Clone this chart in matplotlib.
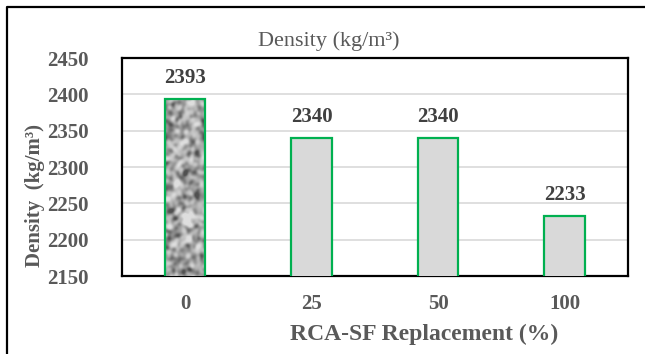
import numpy as np
import matplotlib
matplotlib.use("Agg")
import matplotlib.pyplot as plt
from matplotlib.lines import Line2D
from matplotlib.colors import LinearSegmentedColormap

# Density results per replacement level
categories = ["0", "25", "50", "100"]
density = [2393, 2340, 2340, 2233]
yticks = [2150, 2200, 2250, 2300, 2350, 2400, 2450]

plt.rcParams['font.family'] = ['Liberation Serif', 'DejaVu Serif']

gray_txt = '#595959'
fig = plt.figure(figsize=(6.45, 3.54), dpi=100)
ax = fig.add_axes([0.189, 0.2203, 0.7845, 0.6158])

x = np.arange(len(categories))
bars = ax.bar(x, density, width=0.32, color='#d9d9d9', edgecolor='#00b050',
              linewidth=1.6, zorder=3)

# granite-like texture for the reference mix (0 %)
rng = np.random.default_rng(11)
noise = rng.normal(size=(180, 44))
fy = np.fft.fftfreq(noise.shape[0])[:, None]
fx = np.fft.fftfreq(noise.shape[1])[None, :]
kern = np.exp(-(fx**2 + fy**2) * 2 * (np.pi * 2.0)**2)
tex = np.real(np.fft.ifft2(np.fft.fft2(noise) * kern))
tex = (tex - tex.mean()) / tex.std()
stone = LinearSegmentedColormap.from_list('stone', ['#505050', '#8a8a8a', '#bcbcbc', '#dedede'])
b0 = bars[0]
x0, w0 = b0.get_x(), b0.get_width()
im = ax.imshow(tex, cmap=stone, vmin=-2.3, vmax=2.1, aspect='auto',
               extent=[x0, x0 + w0, 2150, density[0]], zorder=3.5,
               interpolation='bilinear')
im.set_clip_path(b0)
b0.set_facecolor('none')
b0.set_zorder(4)

for xi, v in zip(x, density):
    ax.annotate(str(v), (xi, v), xytext=(0, 8), textcoords='offset points',
                ha='center', va='bottom', fontsize=15, fontweight='bold',
                color='#404040')

ax.set_xlim(-0.5, len(categories) - 0.5)
ax.set_ylim(2150, 2450)
ax.set_yticks(yticks)
ax.set_xticks(x)
ax.set_xticklabels(categories)
ax.grid(axis='y', color='#d9d9d9', linewidth=1.2, zorder=0)
ax.set_axisbelow(True)
for s in ax.spines.values():
    s.set_color('black')
    s.set_linewidth(1.6)
ax.tick_params(length=0, labelsize=15, labelcolor=gray_txt)
ax.tick_params(axis='y', pad=24)
ax.tick_params(axis='x', pad=13)
for lbl in ax.get_xticklabels() + ax.get_yticklabels():
    lbl.set_fontweight('bold')

fig.text(0.509, 0.884, 'Density (kg/m³)', ha='center', va='center',
         fontsize=16, color=gray_txt)
fig.text(0.658, 0.056, 'RCA-SF Replacement (%)', ha='center', va='center',
         fontsize=17, fontweight='bold', color=gray_txt)
fig.text(0.054, 0.449, 'Density  (kg/m³)', ha='center', va='center',
         rotation=90, fontsize=15, fontweight='bold', color=gray_txt)

# outer frame (left and top edges)
fig.add_artist(Line2D([0.011, 0.011, 1.0], [0.0, 0.980, 0.980],
                      transform=fig.transFigure, color='black', linewidth=1.6))

fig.savefig('out.png', dpi=100)
